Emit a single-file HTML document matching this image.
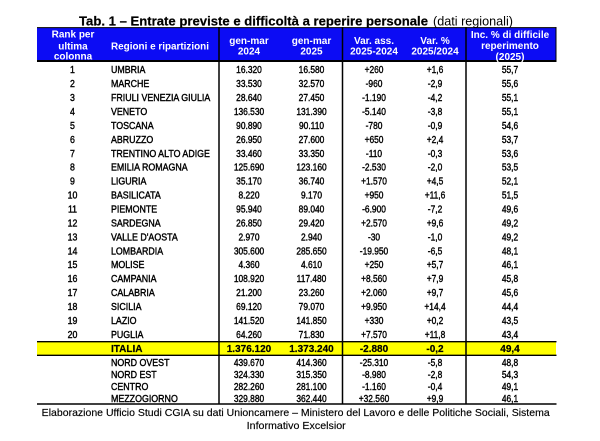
<!DOCTYPE html>
<html><head><meta charset="utf-8"><style>
html,body{margin:0;padding:0;background:#fff;}
svg{display:block;}
text{font-family:"Liberation Sans",Arial,sans-serif;}
</style></head><body>
<svg width="600" height="441" viewBox="0 0 600 441" xmlns="http://www.w3.org/2000/svg">
<rect width="600" height="441" fill="#fff"/>
<!-- Title -->
<text x="79" y="25.5" font-size="12.5" font-weight="bold" textLength="349" lengthAdjust="spacingAndGlyphs" fill="#000" stroke="#000" stroke-width="0.2">Tab. 1 – Entrate previste e difficoltà a reperire personale</text>
<text x="433" y="25.5" font-size="12.5" textLength="80" lengthAdjust="spacingAndGlyphs" fill="#000">(dati regionali)</text>

<!-- Header -->
<rect x="37" y="28" width="519" height="33" fill="#0c0cf4"/>
<line x1="37" y1="27.6" x2="556.5" y2="27.6" stroke="#000" stroke-width="1"/>
<line x1="37" y1="61" x2="556.5" y2="61" stroke="#000" stroke-width="2"/>
<line x1="556" y1="27" x2="556" y2="62" stroke="#000" stroke-width="1"/>

<!-- Italia row -->
<rect x="37" y="342" width="519" height="13" fill="#ffff00"/>
<line x1="37" y1="341.7" x2="556.5" y2="341.7" stroke="#000" stroke-width="1.4"/>
<line x1="37" y1="355.3" x2="556.5" y2="355.3" stroke="#000" stroke-width="1.4"/>
<line x1="37" y1="404" x2="556.5" y2="404" stroke="#000" stroke-width="1.5"/>

<!-- Vertical lines -->
<line x1="219" y1="27" x2="219" y2="404.5" stroke="#000" stroke-width="1.5"/>
<line x1="342.5" y1="27" x2="342.5" y2="404.5" stroke="#000" stroke-width="1.5"/>
<line x1="466" y1="27" x2="466" y2="404.5" stroke="#000" stroke-width="1.5"/>

<!-- Header texts -->
<g fill="#fff" font-size="10" font-weight="bold" text-anchor="middle">
<text x="73" y="37.5">Rank per</text>
<text x="73" y="49.3">ultima</text>
<text x="73" y="59.6">colonna</text>
<text x="249" y="44">gen-mar</text>
<text x="249" y="54.5">2024</text>
<text x="311.5" y="44">gen-mar</text>
<text x="311.5" y="54.5">2025</text>
<text x="374" y="44">Var. ass.</text>
<text x="374" y="54.5">2025-2024</text>
<text x="435" y="44">Var. %</text>
<text x="435" y="54.5">2025/2024</text>
<text x="510" y="37.8">Inc. % di difficile</text>
<text x="510" y="49.2">reperimento</text>
<text x="510" y="59.8">(2025)</text>
</g>
<text x="111" y="49.3" fill="#fff" font-size="10" font-weight="bold" textLength="98" lengthAdjust="spacingAndGlyphs">Regioni e ripartizioni</text>

<!-- Rank column -->
<g transform="translate(72.5,0) scale(0.88,1)" font-size="10" text-anchor="middle" fill="#000" stroke="#000" stroke-width="0.4">
<text x="0" y="73.2">1</text><text x="0" y="87.1">2</text><text x="0" y="101.1">3</text><text x="0" y="115">4</text><text x="0" y="128.9">5</text>
<text x="0" y="142.9">6</text><text x="0" y="156.8">7</text><text x="0" y="170.7">8</text><text x="0" y="184.6">9</text><text x="0" y="198.6">10</text>
<text x="0" y="212.5">11</text><text x="0" y="226.4">12</text><text x="0" y="240.4">13</text><text x="0" y="254.3">14</text><text x="0" y="268.2">15</text>
<text x="0" y="282.1">16</text><text x="0" y="296.1">17</text><text x="0" y="310">18</text><text x="0" y="323.9">19</text><text x="0" y="337.9">20</text>
</g>

<!-- Region names -->
<g transform="translate(111,0) scale(0.885,1)" font-size="10" fill="#000" stroke="#000" stroke-width="0.4">
<text x="0" y="73.2">UMBRIA</text><text x="0" y="87.1">MARCHE</text><text x="0" y="101.1">FRIULI VENEZIA GIULIA</text><text x="0" y="115">VENETO</text><text x="0" y="128.9">TOSCANA</text>
<text x="0" y="142.9">ABRUZZO</text><text x="0" y="156.8">TRENTINO ALTO ADIGE</text><text x="0" y="170.7">EMILIA ROMAGNA</text><text x="0" y="184.6">LIGURIA</text><text x="0" y="198.6">BASILICATA</text>
<text x="0" y="212.5">PIEMONTE</text><text x="0" y="226.4">SARDEGNA</text><text x="0" y="240.4">VALLE D'AOSTA</text><text x="0" y="254.3">LOMBARDIA</text><text x="0" y="268.2">MOLISE</text>
<text x="0" y="282.1">CAMPANIA</text><text x="0" y="296.1">CALABRIA</text><text x="0" y="310">SICILIA</text><text x="0" y="323.9">LAZIO</text><text x="0" y="337.9">PUGLIA</text>
<text x="0" y="365.9">NORD OVEST</text><text x="0" y="377.9">NORD EST</text><text x="0" y="389.8">CENTRO</text><text x="0" y="402.2">MEZZOGIORNO</text>
</g>
<text x="111" y="352.1" font-size="10" font-weight="bold" fill="#000" stroke="#000" stroke-width="0.2">ITALIA</text>

<!-- gen-mar 2024 -->
<g transform="translate(249,0) scale(0.84,1)" font-size="10" text-anchor="middle" fill="#000" stroke="#000" stroke-width="0.4">
<text x="0" y="73.2">16.320</text><text x="0" y="87.1">33.530</text><text x="0" y="101.1">28.640</text><text x="0" y="115">136.530</text><text x="0" y="128.9">90.890</text>
<text x="0" y="142.9">26.950</text><text x="0" y="156.8">33.460</text><text x="0" y="170.7">125.690</text><text x="0" y="184.6">35.170</text><text x="0" y="198.6">8.220</text>
<text x="0" y="212.5">95.940</text><text x="0" y="226.4">26.850</text><text x="0" y="240.4">2.970</text><text x="0" y="254.3">305.600</text><text x="0" y="268.2">4.360</text>
<text x="0" y="282.1">108.920</text><text x="0" y="296.1">21.200</text><text x="0" y="310">69.120</text><text x="0" y="323.9">141.520</text><text x="0" y="337.9">64.260</text>
<text x="0" y="365.9">439.670</text><text x="0" y="377.9">324.330</text><text x="0" y="389.8">282.260</text><text x="0" y="402.2">329.880</text>
</g>

<!-- gen-mar 2025 -->
<g transform="translate(311.5,0) scale(0.84,1)" font-size="10" text-anchor="middle" fill="#000" stroke="#000" stroke-width="0.4">
<text x="0" y="73.2">16.580</text><text x="0" y="87.1">32.570</text><text x="0" y="101.1">27.450</text><text x="0" y="115">131.390</text><text x="0" y="128.9">90.110</text>
<text x="0" y="142.9">27.600</text><text x="0" y="156.8">33.350</text><text x="0" y="170.7">123.160</text><text x="0" y="184.6">36.740</text><text x="0" y="198.6">9.170</text>
<text x="0" y="212.5">89.040</text><text x="0" y="226.4">29.420</text><text x="0" y="240.4">2.940</text><text x="0" y="254.3">285.650</text><text x="0" y="268.2">4.610</text>
<text x="0" y="282.1">117.480</text><text x="0" y="296.1">23.260</text><text x="0" y="310">79.070</text><text x="0" y="323.9">141.850</text><text x="0" y="337.9">71.830</text>
<text x="0" y="365.9">414.360</text><text x="0" y="377.9">315.350</text><text x="0" y="389.8">281.100</text><text x="0" y="402.2">362.440</text>
</g>

<!-- Var ass -->
<g transform="translate(374,0) scale(0.84,1)" font-size="10" text-anchor="middle" fill="#000" stroke="#000" stroke-width="0.4">
<text x="0" y="73.2">+260</text><text x="0" y="87.1">-960</text><text x="0" y="101.1">-1.190</text><text x="0" y="115">-5.140</text><text x="0" y="128.9">-780</text>
<text x="0" y="142.9">+650</text><text x="0" y="156.8">-110</text><text x="0" y="170.7">-2.530</text><text x="0" y="184.6">+1.570</text><text x="0" y="198.6">+950</text>
<text x="0" y="212.5">-6.900</text><text x="0" y="226.4">+2.570</text><text x="0" y="240.4">-30</text><text x="0" y="254.3">-19.950</text><text x="0" y="268.2">+250</text>
<text x="0" y="282.1">+8.560</text><text x="0" y="296.1">+2.060</text><text x="0" y="310">+9.950</text><text x="0" y="323.9">+330</text><text x="0" y="337.9">+7.570</text>
<text x="0" y="365.9">-25.310</text><text x="0" y="377.9">-8.980</text><text x="0" y="389.8">-1.160</text><text x="0" y="402.2">+32.560</text>
</g>

<!-- Var % -->
<g transform="translate(435,0) scale(0.84,1)" font-size="10" text-anchor="middle" fill="#000" stroke="#000" stroke-width="0.4">
<text x="0" y="73.2">+1,6</text><text x="0" y="87.1">-2,9</text><text x="0" y="101.1">-4,2</text><text x="0" y="115">-3,8</text><text x="0" y="128.9">-0,9</text>
<text x="0" y="142.9">+2,4</text><text x="0" y="156.8">-0,3</text><text x="0" y="170.7">-2,0</text><text x="0" y="184.6">+4,5</text><text x="0" y="198.6">+11,6</text>
<text x="0" y="212.5">-7,2</text><text x="0" y="226.4">+9,6</text><text x="0" y="240.4">-1,0</text><text x="0" y="254.3">-6,5</text><text x="0" y="268.2">+5,7</text>
<text x="0" y="282.1">+7,9</text><text x="0" y="296.1">+9,7</text><text x="0" y="310">+14,4</text><text x="0" y="323.9">+0,2</text><text x="0" y="337.9">+11,8</text>
<text x="0" y="365.9">-5,8</text><text x="0" y="377.9">-2,8</text><text x="0" y="389.8">-0,4</text><text x="0" y="402.2">+9,9</text>
</g>

<!-- Inc % -->
<g transform="translate(510,0) scale(0.84,1)" font-size="10" text-anchor="middle" fill="#000" stroke="#000" stroke-width="0.4">
<text x="0" y="73.2">55,7</text><text x="0" y="87.1">55,6</text><text x="0" y="101.1">55,1</text><text x="0" y="115">55,1</text><text x="0" y="128.9">54,6</text>
<text x="0" y="142.9">53,7</text><text x="0" y="156.8">53,6</text><text x="0" y="170.7">53,5</text><text x="0" y="184.6">52,1</text><text x="0" y="198.6">51,5</text>
<text x="0" y="212.5">49,6</text><text x="0" y="226.4">49,2</text><text x="0" y="240.4">49,2</text><text x="0" y="254.3">48,1</text><text x="0" y="268.2">46,1</text>
<text x="0" y="282.1">45,8</text><text x="0" y="296.1">45,6</text><text x="0" y="310">44,4</text><text x="0" y="323.9">43,5</text><text x="0" y="337.9">43,4</text>
<text x="0" y="365.9">48,8</text><text x="0" y="377.9">54,3</text><text x="0" y="389.8">49,1</text><text x="0" y="402.2">46,1</text>
</g>

<!-- Italia values -->
<g font-size="10" font-weight="bold" text-anchor="middle" fill="#000" stroke="#000" stroke-width="0.2">
<text x="249" y="352.1">1.376.120</text>
<text x="311.5" y="352.1">1.373.240</text>
<text x="374" y="352.1">-2.880</text>
<text x="435" y="352.1">-0,2</text>
<text x="510" y="352.1">49,4</text>
</g>

<!-- Footer -->
<text x="41.7" y="416" font-size="10.5" fill="#000" stroke="#000" stroke-width="0.15" textLength="508" lengthAdjust="spacingAndGlyphs">Elaborazione Ufficio Studi CGIA su dati Unioncamere – Ministero del Lavoro e delle Politiche Sociali, Sistema</text>
<text x="246.7" y="429" font-size="10.5" fill="#000" stroke="#000" stroke-width="0.15" textLength="99" lengthAdjust="spacingAndGlyphs">Informativo Excelsior</text>
</svg>
</body></html>
